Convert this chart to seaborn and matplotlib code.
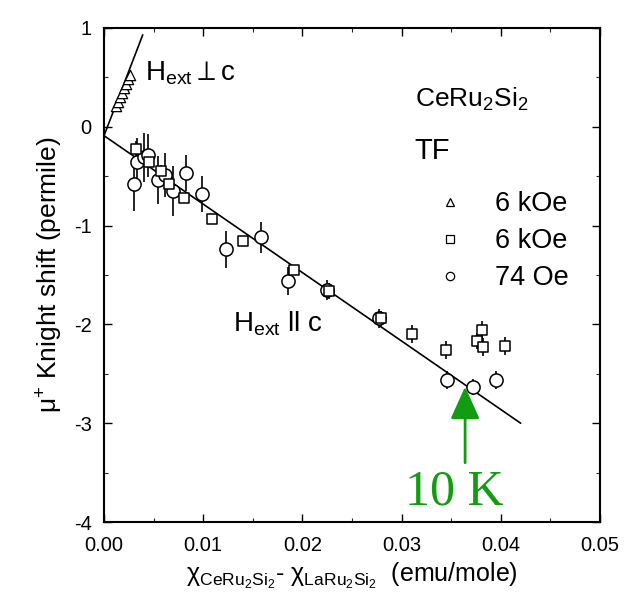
import numpy as np
import pandas as pd
import matplotlib
matplotlib.use("Agg")
import matplotlib.pyplot as plt
import seaborn as sns
from matplotlib.lines import Line2D
from matplotlib.ticker import MultipleLocator, FormatStrFormatter

# ---- data ----
# 74 Oe, H_ext || c  (circles)
circ_x = [0.0030, 0.0033, 0.0040, 0.0044, 0.0054, 0.0061, 0.0070, 0.0083, 0.0099,
          0.0123, 0.0158, 0.0185, 0.0225, 0.0277, 0.0346, 0.0372, 0.0395]
circ_y = [-0.58, -0.36, -0.31, -0.29, -0.54, -0.49, -0.65, -0.47, -0.68,
          -1.24, -1.12, -1.56, -1.65, -1.94, -2.56, -2.63, -2.56]
circ_e = [0.27, 0.25, 0.25, 0.22, 0.24, 0.22, 0.25, 0.18, 0.18,
          0.19, 0.16, 0.14, 0.10, 0.10, 0.09, 0.08, 0.09]
# 6 kOe, H_ext || c  (squares)
sq_x = [0.0032, 0.0045, 0.0057, 0.0066, 0.0081, 0.0109, 0.0140, 0.0192,
        0.0227, 0.0279, 0.0310, 0.0345, 0.0381, 0.0376, 0.0382, 0.0404]
sq_y = [-0.22, -0.36, -0.45, -0.58, -0.72, -0.93, -1.16, -1.45,
        -1.66, -1.94, -2.10, -2.26, -2.06, -2.17, -2.23, -2.22]
sq_e = [0.08, 0.06, 0.06, 0.06, 0.05, 0.05, 0.05, 0.05,
        0.08, 0.08, 0.09, 0.09, 0.09, 0.08, 0.09, 0.09]
# 6 kOe, H_ext perp c  (triangles)
tri_x = [0.0012, 0.0014, 0.0016, 0.0018, 0.0020, 0.0022, 0.0024, 0.0026]
tri_y = [0.21, 0.25, 0.30, 0.34, 0.39, 0.43, 0.48, 0.52]
# fitted lines
par_x = [0.0, 0.0420]
par_y = [-0.09, -3.00]
perp_x = [0.0, 0.0039]
perp_y = [-0.09, 0.93]

x_ticks = [0.00, 0.01, 0.02, 0.03, 0.04, 0.05]
y_ticks = [-4, -3, -2, -1, 0, 1]

# ---- style ----
sns.set_theme(style="ticks")
plt.rcParams['font.family'] = ['Liberation Sans', 'DejaVu Sans']
plt.rcParams['mathtext.fontset'] = 'custom'
plt.rcParams['mathtext.rm'] = 'Liberation Sans'
plt.rcParams['mathtext.it'] = 'Liberation Sans:italic'
plt.rcParams['mathtext.bf'] = 'Liberation Sans:bold'
plt.rcParams['mathtext.fallback'] = 'stixsans'
plt.rcParams['axes.unicode_minus'] = False
plt.rcParams['text.color'] = 'black'
plt.rcParams['axes.labelcolor'] = 'black'

fig = plt.figure(figsize=(6.32, 6.07), dpi=100)
ax = fig.add_axes([0.1646, 0.14, 0.7848, 0.8139])

# fit lines
sns.lineplot(x=par_x, y=par_y, color='black', lw=1.2, sort=False, ax=ax, zorder=1)
sns.lineplot(x=perp_x, y=perp_y, color='black', lw=1.2, sort=False, ax=ax, zorder=1)

# error bars
ax.errorbar(circ_x, circ_y, yerr=circ_e, fmt='none', ecolor='black', elinewidth=1.2, capsize=0, zorder=2)
ax.errorbar(sq_x, sq_y, yerr=sq_e, fmt='none', ecolor='black', elinewidth=1.2, capsize=0, zorder=2)

# markers
sns.scatterplot(x=circ_x, y=circ_y, marker='o', s=90, facecolor='white', edgecolor='black',
                linewidth=1.1, ax=ax, zorder=3)
sns.scatterplot(x=sq_x, y=sq_y, marker='s', s=60, facecolor='white', edgecolor='black',
                linewidth=1.1, ax=ax, zorder=3)
sns.scatterplot(x=tri_x, y=tri_y, marker='^', s=55, facecolor='white', edgecolor='black',
                linewidth=0.9, ax=ax, zorder=3)

# axes
ax.set_xlim(0, 0.05)
ax.set_ylim(-4, 1)
ax.set_xticks(x_ticks)
ax.set_yticks(y_ticks)
ax.xaxis.set_major_formatter(FormatStrFormatter('%.2f'))
ax.set_yticklabels([str(v) for v in y_ticks])
ax.xaxis.set_minor_locator(MultipleLocator(0.005))
ax.yaxis.set_minor_locator(MultipleLocator(0.5))
ax.tick_params(which='major', direction='in', top=True, right=True, length=6, width=1,
               labelsize=14.5, color='black', labelcolor='black')
ax.tick_params(which='minor', direction='in', top=True, right=True, length=3, width=0.8)
ax.tick_params(axis='x', which='major', pad=10)
ax.tick_params(axis='y', which='major', pad=9)
for s in ax.spines.values():
    s.set_color('black')
    s.set_linewidth(1.5)

ax.set_xlabel(r"$\mathrm{\chi_{CeRu_2Si_2}}$- $\mathrm{\chi_{LaRu_2Si_2}}$  (emu/mole)",
              fontsize=18, color='black', labelpad=4)
ax.set_ylabel(r"$\mathrm{\mu^{+}}$ Knight shift (permile)", fontsize=19, color='black', labelpad=6)

# annotations
ax.text(0.0041, 0.54, r"$\mathrm{H_{ext}} \perp \mathrm{c}$", fontsize=20, ha='left', va='center', color='black')
ax.text(0.0130, -1.99, r"$\mathrm{H_{ext}}\ \mathrm{ll}\ \mathrm{c}$", fontsize=20, ha='left', va='center', color='black')
ax.text(0.0313, 0.28, r"$\mathrm{CeRu_2Si_2}$", fontsize=19, ha='left', va='center', color='black')
ax.text(0.0313, -0.24, "TF", fontsize=21, ha='left', va='center', color='black')

handles = [
    Line2D([], [], marker='^', ls='none', mfc='white', mec='black', ms=6, mew=0.9, label='6 kOe'),
    Line2D([], [], marker='s', ls='none', mfc='white', mec='black', ms=5.5, mew=0.9, label='6 kOe'),
    Line2D([], [], marker='o', ls='none', mfc='white', mec='black', ms=6, mew=0.9, label='74 Oe'),
]
leg = ax.legend(handles=handles, loc='upper left', bbox_to_anchor=(0.676, 0.670), frameon=False,
                fontsize=19.5, handlelength=0.8, handletextpad=1.26, labelspacing=0.41, borderpad=0,
                borderaxespad=0)
for t in leg.get_texts():
    t.set_color('black')

green = '#129c12'
ax.annotate("", xy=(0.0364, -2.63), xytext=(0.0364, -3.40),
            arrowprops=dict(arrowstyle='-|>,head_width=0.45,head_length=1.0', color=green,
                            lw=2, shrinkA=0, shrinkB=0, mutation_scale=20))
ax.text(0.0353, -3.70, "10 K", fontsize=36, family='Liberation Serif', color=green,
        ha='center', va='center')

fig.savefig("out.png", dpi=100, facecolor='white')
